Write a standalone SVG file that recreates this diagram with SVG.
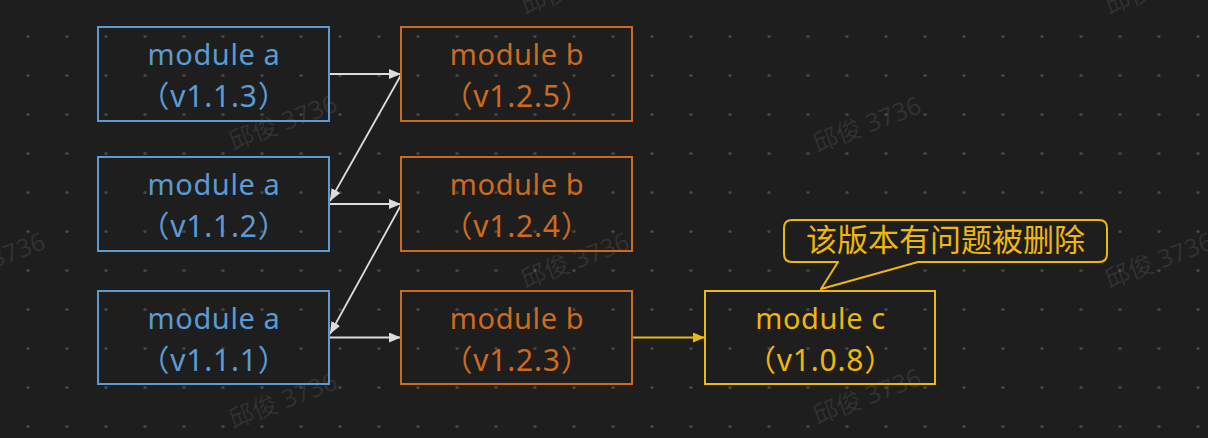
<svg xmlns="http://www.w3.org/2000/svg" width="1208" height="438" viewBox="0 0 1208 438">
  <defs>
    <pattern id="dots" x="8.5" y="17" width="39" height="39" patternUnits="userSpaceOnUse">
      <circle cx="19.5" cy="19.5" r="1.6" fill="#4a4a4a"/>
    </pattern>
    <marker id="ah-w" markerUnits="userSpaceOnUse" markerWidth="13" markerHeight="11" refX="12" refY="5" orient="auto">
      <path d="M0,0 L12,5 L0,10 z" fill="#dcdcdc"/>
    </marker>
    <marker id="ah-y" markerUnits="userSpaceOnUse" markerWidth="13" markerHeight="11" refX="12" refY="5" orient="auto">
      <path d="M0,0 L12,5 L0,10 z" fill="#eeb70c"/>
    </marker>
  </defs>
  <style>
    .box { fill: none; stroke-width: 2; }
    .a { stroke: #5a9bd3; }
    .b { stroke: #cd6a1e; }
    .c { stroke: #eeb70c; }
    .t { font-family: "Noto Sans", "Noto Sans CJK SC", sans-serif; font-size: 29px; text-anchor: middle; letter-spacing: 0.6px; }
    .v { font-size: 30px; letter-spacing: 0.8px; }
    .ta { fill: #5a9bd3; }
    .tb { fill: #cd6a1e; }
    .tc { fill: #eeb70c; }
    .w { stroke: #dcdcdc; stroke-width: 1.8; fill: none; marker-end: url(#ah-w); }
    .y { stroke: #eeb70c; stroke-width: 1.8; fill: none; marker-end: url(#ah-y); }
    .wm { font-family: "Noto Sans", "Noto Sans CJK SC", sans-serif; font-size: 25px; fill: #ffffff; fill-opacity: 0.09; }
    .note { font-family: "Noto Sans CJK SC", sans-serif; font-size: 31px; fill: #eeb70c; text-anchor: middle; }
  </style>

  <rect width="1208" height="438" fill="#1e1e1e"/>
  <rect id="grid" width="1208" height="438" fill="url(#dots)"/>

  <g id="watermarks">
    <text class="wm" transform="translate(233,151) rotate(-21)">邱俊 3736</text>
    <text class="wm" transform="translate(233,429) rotate(-21)">邱俊 3736</text>
    <text class="wm" transform="translate(525,15) rotate(-21)">邱俊 3736</text>
    <text class="wm" transform="translate(525,289) rotate(-21)">邱俊 3736</text>
    <text class="wm" transform="translate(817,153) rotate(-21)">邱俊 3736</text>
    <text class="wm" transform="translate(817,425) rotate(-21)">邱俊 3736</text>
    <text class="wm" transform="translate(1109,15) rotate(-21)">邱俊 3736</text>
    <text class="wm" transform="translate(1109,289) rotate(-21)">邱俊 3736</text>
    <text class="wm" transform="translate(-59,289) rotate(-21)">邱俊 3736</text>
  </g>

  <g id="connectors">
    <line class="w" x1="330" y1="74" x2="401" y2="74"/>
    <line class="w" x1="401" y1="75" x2="330" y2="201"/>
    <line class="w" x1="330" y1="204" x2="401" y2="204"/>
    <line class="w" x1="401" y1="205" x2="330" y2="334"/>
    <line class="w" x1="330" y1="337.5" x2="401" y2="337.5"/>
    <line class="y" x1="633" y1="337.5" x2="705" y2="337.5"/>
  </g>

  <g id="node-a113">
    <rect class="box a" x="98" y="27" width="231" height="94"/>
    <text class="t ta" x="214" y="65">module a</text>
    <text class="t v ta" x="214" y="107">（v1.1.3）</text>
  </g>
  <g id="node-a112">
    <rect class="box a" x="98" y="157" width="231" height="94"/>
    <text class="t ta" x="214" y="195">module a</text>
    <text class="t v ta" x="214" y="237">（v1.1.2）</text>
  </g>
  <g id="node-a111">
    <rect class="box a" x="98" y="291" width="231" height="93"/>
    <text class="t ta" x="214" y="329">module a</text>
    <text class="t v ta" x="214" y="371">（v1.1.1）</text>
  </g>
  <g id="node-b125">
    <rect class="box b" x="401" y="27" width="231" height="94"/>
    <text class="t tb" x="517" y="65">module b</text>
    <text class="t v tb" x="517" y="107">（v1.2.5）</text>
  </g>
  <g id="node-b124">
    <rect class="box b" x="401" y="157" width="231" height="94"/>
    <text class="t tb" x="517" y="195">module b</text>
    <text class="t v tb" x="517" y="237">（v1.2.4）</text>
  </g>
  <g id="node-b123">
    <rect class="box b" x="401" y="291" width="231" height="93"/>
    <text class="t tb" x="517" y="329">module b</text>
    <text class="t v tb" x="517" y="371">（v1.2.3）</text>
  </g>
  <g id="node-c108">
    <rect class="box c" x="705" y="291" width="230" height="93"/>
    <text class="t tc" x="820.5" y="329">module c</text>
    <text class="t v tc" x="820.5" y="371">（v1.0.8）</text>
  </g>
  <g id="callout">
    <path d="M792,220 H1099 Q1107,220 1107,228 V254 Q1107,262 1099,262 H918 L821,289 L838,262 H792 Q784,262 784,254 V228 Q784,220 792,220 Z" fill="#1e1e1e" stroke="#eeb70c" stroke-width="2" stroke-linejoin="round"/>
    <text class="note" x="945.5" y="251">该版本有问题被删除</text>
  </g>
</svg>
